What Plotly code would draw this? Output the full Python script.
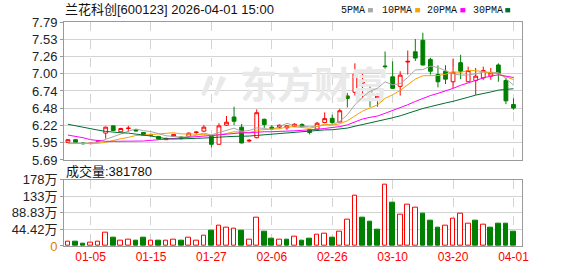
import numpy as np
import pandas as pd
import plotly.graph_objects as go

# ---------------- data ----------------
dates = (["2025-12-29", "2025-12-30", "2025-12-31"] +
         ["2026-01-%02d" % d for d in [5, 6, 7, 8, 9, 12, 13, 14, 15, 16, 19, 20, 21, 22, 23, 26, 27, 28, 29, 30]] +
         ["2026-02-%02d" % d for d in [2, 3, 4, 5, 6, 9, 10, 11, 12, 13, 24, 25, 26, 27]] +
         ["2026-03-%02d" % d for d in [2, 3, 4, 5, 6, 9, 10, 11, 12, 13, 16, 17, 18, 19, 20, 23, 24, 25, 26, 27, 30, 31]] +
         ["2026-04-01"])

opens = [5.96, 6.00, 5.95, 5.94, 5.97, 6.10, 6.21, 6.12, 6.17, 6.15,
         6.11, 6.08, 6.05, 6.00, 6.05, 6.04, 6.05, 6.11, 6.13, 6.05,
         5.93, 6.22, 6.345, 6.19, 5.98, 6.03, 6.31, 6.19, 6.19, 6.18,
         6.20, 6.23, 6.15, 6.16, 6.26, 6.325, 6.27, 6.665, 6.72, 6.86,
         6.745, 6.63, 7.12, 6.955, 6.81, 7.18, 7.335, 7.51, 7.22, 6.99,
         7.04, 6.88, 7.17, 6.88, 6.90, 6.94, 6.965, 7.135, 6.90, 6.535]
highs = [6.01, 6.005, 5.96, 5.955, 5.995, 6.20, 6.215, 6.18, 6.21, 6.16,
         6.115, 6.09, 6.055, 6.03, 6.085, 6.05, 6.11, 6.13, 6.22, 6.06,
         6.25, 6.36, 6.50, 6.24, 6.01, 6.46, 6.32, 6.22, 6.23, 6.22,
         6.25, 6.25, 6.16, 6.27, 6.415, 6.38, 6.47, 6.71, 7.16, 7.00,
         6.83, 6.71, 7.34, 7.19, 7.04, 7.355, 7.53, 7.625, 7.245, 7.13,
         7.13, 7.23, 7.29, 7.11, 7.09, 7.11, 7.09, 7.16, 6.94, 6.63]
lows = [5.95, 5.955, 5.925, 5.93, 5.96, 6.015, 6.13, 6.11, 6.12, 6.125,
        6.06, 6.05, 6.00, 5.995, 6.04, 6.00, 6.045, 6.09, 6.12, 5.88,
        5.925, 6.21, 6.22, 5.945, 5.96, 6.02, 6.18, 6.15, 6.17, 6.15,
        6.19, 6.18, 6.08, 6.15, 6.25, 6.24, 6.26, 6.49, 6.67, 6.61,
        6.50, 6.50, 7.08, 6.77, 6.67, 6.99, 7.195, 7.13, 6.99, 6.795,
        6.845, 6.78, 6.92, 6.875, 6.68, 6.91, 6.91, 6.88, 6.54, 6.455]
closes = [6.00, 5.96, 5.94, 5.945, 5.98, 6.19, 6.14, 6.17, 6.175, 6.135,
          6.065, 6.07, 6.01, 6.02, 6.08, 6.02, 6.10, 6.115, 6.19, 5.93,
          6.21, 6.265, 6.28, 5.95, 5.99, 6.41, 6.23, 6.17, 6.22, 6.21,
          6.235, 6.20, 6.11, 6.25, 6.32, 6.26, 6.44, 6.625, 7.00, 6.90,
          6.72, 6.665, 7.11, 6.78, 6.98, 7.19, 7.24, 7.135, 7.04, 6.88,
          6.92, 7.025, 7.04, 7.05, 6.965, 7.05, 7.015, 7.01, 6.59, 6.48]
# volume in 万 (10k) units
volume_wan = [12.9, 11, 6, 7.7, 12.9, 36, 23, 14.6, 17, 15.5,
              23, 13, 13, 13, 17, 15.5, 22, 15.5, 28, 41,
              54, 49, 46, 41, 18, 75, 38.6, 19, 18, 16,
              25, 15.5, 20.6, 31, 33.5, 23, 38.6, 71, 134, 75,
              64, 44, 164, 116, 85, 110, 103, 87.5, 67, 49,
              54, 72, 87.5, 59, 67, 56.6, 49, 59, 59, 38.178]

# moving-average values at the start of the window (before enough history)
ma5_head = [5.95, 5.945, 5.94, 5.945]
ma10_head = [5.94, 5.94, 5.94, 5.94, 5.945, 5.96, 5.99, 6.015, 6.035]
ma20_head = [6.07, 6.055, 6.03, 6.00, 5.985, 5.975, 5.975, 5.975, 5.975, 5.975,
             5.98, 5.99, 6.00, 6.01, 6.02, 6.035, 6.045, 6.05, 6.055]
ma30_head = [6.234, 6.21, 6.19, 6.165, 6.145, 6.126, 6.11, 6.105, 6.10, 6.088,
             6.07, 6.055, 6.035, 6.015, 6.01, 6.01, 6.015, 6.02, 6.025, 6.035,
             6.04, 6.045, 6.05, 6.05, 6.055, 6.065, 6.075, 6.085, 6.095]

x_tick_labels = ["01-05", "01-15", "01-27", "02-06", "02-26", "03-10", "03-20", "04-01"]
price_tick_labels = ["5.69", "5.95", "6.22", "6.48", "6.74", "7.00", "7.26", "7.53", "7.79"]
vol_tick_labels = ["0", "44.42万", "88.83万", "133万", "178万"]

title_text = "兰花科创[600123] 2026-04-01 15:00"
vol_text = "成交量:381780"
ma_names = ["5PMA", "10PMA", "20PMA", "30PMA"]
ma_colors = ["#a8a8a8", "#f5a400", "#ff00ff", "#006e32"]

# ---------------- derived ----------------
n = len(dates)
idx = np.arange(n)
cl = pd.Series(closes, dtype=float)

def ma(win, head):
    s = cl.rolling(win).mean()
    s.iloc[:len(head)] = head
    return s

mas = [ma(5, ma5_head), ma(10, ma10_head), ma(20, ma20_head), ma(30, ma30_head)]

prev = cl.shift(1)
prev.iloc[0] = opens[0]
vol_up = (cl >= prev).tolist()
RED = "#ff0000"
GREEN = "#008000"
vol_fill = ["#ffffff" if u else GREEN for u in vol_up]
vol_line = [RED if u else GREEN for u in vol_up]
volume = [v * 10000 for v in volume_wan]

md = [d[5:] for d in dates]
tickvals = [md.index(t) for t in x_tick_labels]

ymin, ymax = 5.692, 7.788
price_tickvals = list(np.linspace(ymin, ymax, len(price_tick_labels)))
vmax = 1776600
vol_tickvals = list(np.linspace(0, vmax, len(vol_tick_labels)))
vol_ticktext = ['<span style="color:#e08000">0</span>'] + vol_tick_labels[1:]

# ---------------- figure ----------------
W, H = 578, 276
L, R, T, B = 56, 56, 22, 21
PH = H - T - B
PW = W - L - R
def px_x(X):
    return (X - L) / PW
def px_y(Y):
    return (H - B - Y) / PH

fig = go.Figure()

# watermark (behind candles)
fig.add_trace(go.Scatter(x=[32.6], y=[6.76], mode="text", text=["东方财富"],
                         textfont=dict(size=37, color="#e9e9e9", family="Noto Sans CJK SC", weight="bold"),
                         hoverinfo="skip", showlegend=False, xaxis="x", yaxis="y"))
fig.add_trace(go.Scatter(x=[19.3], y=[6.76], mode="text", text=["〃"],
                         textfont=dict(size=40, color="#e9e9e9", family="Noto Sans CJK SC", weight="bold"),
                         hoverinfo="skip", showlegend=False, xaxis="x", yaxis="y"))

fig.add_trace(go.Candlestick(
    x=idx, open=opens, high=highs, low=lows, close=closes,
    increasing=dict(line=dict(color=RED, width=1), fillcolor="#ffffff"),
    decreasing=dict(line=dict(color=GREEN, width=1), fillcolor=GREEN),
    whiskerwidth=0, showlegend=False, hoverinfo="skip", xaxis="x", yaxis="y"))

for s, c, nm in zip(mas, ma_colors, ma_names):
    fig.add_trace(go.Scatter(x=idx, y=s, mode="lines", line=dict(color=c, width=1),
                             name=nm, showlegend=False, hoverinfo="skip", xaxis="x", yaxis="y"))

fig.add_trace(go.Bar(x=idx, y=volume, width=0.62,
                     marker=dict(color=vol_fill, line=dict(color=vol_line, width=1)),
                     showlegend=False, hoverinfo="skip", xaxis="x2", yaxis="y2"))

grid = "#d3d3d3"
frame = "#9a9a9a"
tickfont_y = dict(family="Liberation Sans, Noto Sans CJK SC", size=13, color="#222222")
common_x = dict(range=[-0.52, 60.13], tickvals=tickvals, showgrid=True, gridcolor=grid,
                griddash="dash", gridwidth=1, zeroline=False, showline=True, mirror=True,
                linecolor=frame, linewidth=1, fixedrange=True)

fig.update_layout(
    width=W, height=H, margin=dict(l=L, r=R, t=T, b=B),
    paper_bgcolor="white", plot_bgcolor="white",
    showlegend=False, bargap=0, boxgap=0.28,
    font=dict(family="Liberation Sans, Noto Sans CJK SC", size=12, color="#222"),
    xaxis=dict(domain=[0, 1], anchor="y", showticklabels=False, ticks="",
               rangeslider=dict(visible=False), **common_x),
    xaxis2=dict(domain=[0, 1], anchor="y2", ticktext=x_tick_labels, ticks="",
                tickfont=dict(family="Liberation Sans", size=12, color=RED), **common_x),
    yaxis=dict(domain=[(H - B - 165.5) / PH, 1], range=[ymin, ymax], tickvals=price_tickvals,
               ticktext=price_tick_labels, showgrid=True, gridcolor=grid, zeroline=False,
               showline=True, mirror=True, linecolor=frame, ticks="outside", ticklen=3,
               tickcolor=frame, tickfont=tickfont_y, fixedrange=True),
    yaxis2=dict(domain=[0, (H - B - 186) / PH], range=[0, vmax], tickvals=vol_tickvals,
                ticktext=vol_ticktext, showgrid=True, gridcolor=grid, zeroline=False,
                showline=True, mirror=True, linecolor=frame, ticks="outside", ticklen=3,
                tickcolor=frame, tickfont=tickfont_y, fixedrange=True),
)

annotations = [
    dict(text=title_text, x=px_x(55), y=px_y(9.5), xref="paper", yref="paper",
         xanchor="left", yanchor="middle", showarrow=False,
         font=dict(family="Liberation Sans, Noto Sans CJK SC", size=13, color="#111")),
    dict(text=vol_text, x=px_x(56.5), y=px_y(177.5), xref="paper", yref="paper",
         xanchor="left", yanchor="middle", showarrow=False,
         font=dict(family="Liberation Sans, Noto Sans CJK SC", size=13, color="#111")),
]
legend_x = [338.3, 380, 425.7, 471.7]
square_x = [365.3, 413.3, 459.3, 505]
shapes = []
for nm, c, lx, sx in zip(ma_names, ma_colors, legend_x, square_x):
    annotations.append(dict(text=nm, x=px_x(lx - 2), y=px_y(9.8), xref="paper", yref="paper",
                            xanchor="left", yanchor="middle", showarrow=False,
                            font=dict(family="Liberation Mono", size=10, color="#111")))
    shapes.append(dict(type="rect", xref="paper", yref="paper", x0=px_x(sx), x1=px_x(sx + 5),
                       y0=px_y(12), y1=px_y(7.5), fillcolor=c, line=dict(width=0)))
fig.update_layout(annotations=annotations, shapes=shapes)

fig.write_html("out.html")
